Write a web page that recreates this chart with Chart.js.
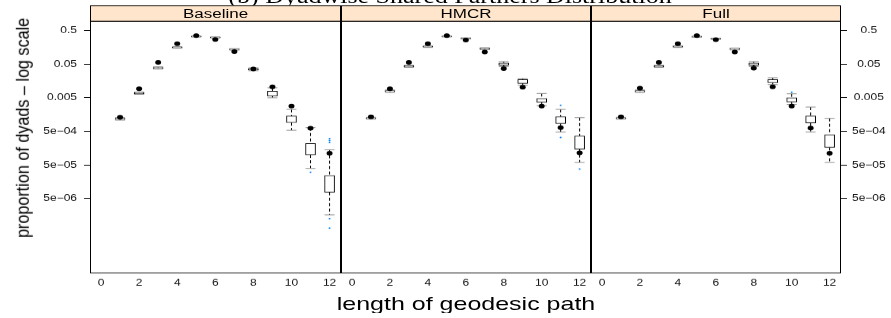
<!DOCTYPE html>
<html>
<head>
<meta charset="utf-8">
<script src="https://cdn.jsdelivr.net/npm/chart.js@4.4.0/dist/chart.umd.min.js"></script>
<style>
  html, body { margin: 0; padding: 0; background: #fff; overflow: hidden; }
  #page {
    position: absolute; left: 0; top: 0; width: 891px; height: 413px;
    transform: scaleY(0.77); transform-origin: 0 0;
    font-family: "Liberation Sans", Arial, sans-serif; color: #000;
  }
  #title {
    position: absolute; left: 0; width: 900px; top: -16.6px; text-align: center;
    font-family: "Liberation Serif", "Times New Roman", serif; font-size: 26px; line-height: 26px;
  }
  .strip {
    position: absolute; top: 6.5px; height: 21px; box-sizing: border-box;
    border: 1px solid #000; background: #ffe5cc; text-align: center;
    font-size: 17px; line-height: 21px; overflow: hidden;
  }
  canvas { position: absolute; top: 7px; }
  #xlab {
    position: absolute; left: 0; width: 932px; top: 381.4px; text-align: center;
    font-size: 25px; line-height: 25px;
  }
  #ylab {
    position: absolute; left: -176.6px; top: 154px; width: 400px; height: 24px;
    text-align: center; font-size: 21px; line-height: 24px; white-space: nowrap;
    transform: rotate(-90deg) scaleY(0.85);
  }
</style>
</head>
<body>
<div id="page">
  <div id="title">(b) Dyadwise Shared Partners Distribution</div>
  <div class="strip" style="left:90px; width:251px;">Baseline</div>
  <div class="strip" style="left:341px; width:250px;">HMCR</div>
  <div class="strip" style="left:591px; width:250px;">Full</div>
  <canvas id="c1" width="341" height="378" style="left:0px"></canvas>
  <canvas id="c2" width="250" height="378" style="left:341px"></canvas>
  <canvas id="c3" width="300" height="378" style="left:591px"></canvas>
  <div id="xlab">length of geodesic path</div>
  <div id="ylab">proportion of dyads – log scale</div>
</div>
<script>
const pathLengths = [1, 2, 3, 4, 5, 6, 7, 8, 9, 10, 11, 12]
const xTicks = [0, 2, 4, 6, 8, 10, 12]
const yTicks = [0.5, 0.05, 0.005, 5e-4, 5e-5, 5e-6]
const yTickLabels = ['0.5', '0.05', '0.005', '5e\u221204', '5e\u221205', '5e\u221206']

// Baseline
const baseLow  = [0.00108, 0.0063, 0.0355, 0.148, 0.318, 0.296, 0.130, 0.0318, 0.0050, 0.00054, 0.0000396, 0.00000165]
const baseQ1   = [0.00113, 0.0066, 0.0375, 0.153, 0.326, 0.304, 0.134, 0.0336, 0.00557, 0.00091, 0.000100, 0.0000077]
const baseQ3   = [0.00123, 0.0071, 0.0398, 0.161, 0.338, 0.316, 0.140, 0.0362, 0.00784, 0.00143, 0.000218, 0.0000243]
const baseHigh = [0.00128, 0.0074, 0.0415, 0.166, 0.345, 0.323, 0.144, 0.0388, 0.0099, 0.00225, 0.000647, 0.000141]
const baseObs  = [0.00132, 0.0092, 0.0565, 0.202, 0.349, 0.271, 0.117, 0.0360, 0.01057, 0.00282, 0.000618, 0.000112]
const baseOutX = [11, 12, 12, 12, 12, 12]
const baseOutY = [0.0000302, 0.000306, 0.000267, 0.000233, 0.00000126, 0.000000665]

// HMCR
const hmcrLow  = [0.00115, 0.0072, 0.0400, 0.156, 0.320, 0.278, 0.135, 0.0422, 0.0118, 0.0029, 0.00048, 0.0000597]
const hmcrQ1   = [0.00118, 0.0075, 0.0415, 0.160, 0.325, 0.283, 0.139, 0.0465, 0.01325, 0.00363, 0.00085, 0.000148]
const hmcrQ3   = [0.00127, 0.0082, 0.0447, 0.171, 0.339, 0.297, 0.149, 0.0540, 0.0174, 0.00476, 0.00137, 0.000366]
const hmcrHigh = [0.00131, 0.0085, 0.0462, 0.175, 0.344, 0.302, 0.153, 0.0593, 0.0186, 0.0067, 0.00225, 0.00128]
const hmcrObs  = [0.00135, 0.0092, 0.0565, 0.202, 0.349, 0.260, 0.115, 0.0368, 0.0103, 0.00282, 0.000647, 0.000115]
const hmcrOutX = [11, 11, 12]
const hmcrOutY = [0.00296, 0.000328, 0.0000378]

// Full
const fullLow  = [0.00115, 0.0072, 0.0400, 0.156, 0.314, 0.272, 0.132, 0.0422, 0.01236, 0.00317, 0.00048, 0.0000597]
const fullQ1   = [0.00118, 0.0075, 0.0415, 0.160, 0.319, 0.277, 0.136, 0.0465, 0.0139, 0.00376, 0.000887, 0.000166]
const fullQ3   = [0.00127, 0.0082, 0.0447, 0.171, 0.333, 0.291, 0.146, 0.0540, 0.0174, 0.0050, 0.00143, 0.000402]
const fullHigh = [0.00131, 0.0085, 0.0462, 0.175, 0.338, 0.296, 0.150, 0.0593, 0.0196, 0.00656, 0.00264, 0.00122]
const fullObs  = [0.00135, 0.0096, 0.0565, 0.202, 0.349, 0.265, 0.115, 0.0376, 0.01057, 0.00282, 0.000631, 0.000112]
const fullOutX = [10]
const fullOutY = [0.00733]

const tickFont = { family: 'Liberation Sans', size: 12 }

// black frame round each panel
const panelFrame = {
  id: 'panelFrame',
  afterDraw(chart) {
    const { ctx, chartArea: a } = chart
    ctx.save()
    ctx.strokeStyle = '#000'
    ctx.lineWidth = 1
    ctx.strokeRect(a.left + 0.5, a.top + 0.5, a.right - a.left - 1, a.bottom - a.top - 1)
    ctx.restore()
  }
}

const makePanel = (canvasId, side, low, q1, q3, high, obs, outX, outY) => {
  const whiskers = []
  pathLengths.forEach((x, i) => {
    whiskers.push({ x, y: high[i] }, { x, y: q3[i] }, { x, y: null })
    whiskers.push({ x, y: q1[i] }, { x, y: low[i] }, { x, y: null })
  })
  const caps = []
  pathLengths.forEach((x, i) => {
    caps.push({ x, y: low[i] }, { x, y: high[i] })
  })

  return new Chart(document.getElementById(canvasId), {
    type: 'bar',
    data: {
      datasets: [
        {
          type: 'line',
          label: 'observed',
          data: pathLengths.map((x, i) => ({ x, y: obs[i] })),
          showLine: false,
          pointStyle: 'circle',
          pointRadius: 3,
          pointBackgroundColor: '#000',
          pointBorderColor: '#000',
          pointBorderWidth: 0,
          order: 0
        },
        {
          type: 'line',
          label: 'outliers',
          data: outX.map((x, i) => ({ x, y: outY[i] })),
          showLine: false,
          pointRadius: 1,
          pointBackgroundColor: '#0080ff',
          pointBorderColor: '#0080ff',
          pointBorderWidth: 0,
          order: 1
        },
        {
          type: 'line',
          label: 'caps',
          data: caps,
          showLine: false,
          pointStyle: 'line',
          pointRadius: 5,
          pointBorderColor: '#8c8c8c',
          pointBorderWidth: 1,
          order: 2
        },
        {
          type: 'bar',
          label: 'box',
          data: pathLengths.map((x, i) => ({ x, y: [q1[i], q3[i]] })),
          backgroundColor: '#fff',
          borderColor: '#000',
          borderWidth: 1,
          borderSkipped: false,
          barThickness: 10,
          order: 3
        },
        {
          type: 'line',
          label: 'whiskers',
          data: whiskers,
          borderColor: '#000',
          borderWidth: 1,
          borderDash: [4, 3],
          pointRadius: 0,
          spanGaps: false,
          order: 4
        }
      ]
    },
    options: {
      responsive: false,
      animation: false,
      devicePixelRatio: 1,
      events: [],
      layout: { autoPadding: false, padding: { top: 20, left: 0, right: 0, bottom: 0 } },
      plugins: { legend: { display: false }, tooltip: { enabled: false } },
      scales: {
        x: {
          type: 'linear',
          min: -0.58,
          max: 12.6,
          offset: false,
          afterBuildTicks: s => { s.ticks = xTicks.map(v => ({ value: v })) },
          afterFit: s => {
            s.height = 30
            s.paddingLeft = 0
            s.paddingRight = 0
          },
          grid: { display: false, drawTicks: false },
          border: { display: false },
          ticks: { color: '#111', font: tickFont, padding: 5, maxRotation: 0, autoSkip: false }
        },
        y: {
          type: 'logarithmic',
          min: 3.4e-8,
          max: 0.968,
          display: side !== 'none',
          position: side === 'right' ? 'right' : 'left',
          afterBuildTicks: s => { s.ticks = yTicks.map(v => ({ value: v })) },
          afterFit: s => { s.width = side === 'right' ? 50 : side === 'left' ? 90 : 0 },
          grid: { drawOnChartArea: false, drawTicks: true, tickLength: 6, color: '#000' },
          border: { display: false },
          ticks: {
            color: '#111',
            font: tickFont,
            autoSkip: false,
            padding: side === 'right' ? 5 : 7,
            crossAlign: side === 'right' ? 'center' : 'near',
            callback: (v, i) => yTickLabels[i]
          }
        }
      }
    },
    plugins: [panelFrame]
  })
}

makePanel('c1', 'left', baseLow, baseQ1, baseQ3, baseHigh, baseObs, baseOutX, baseOutY)
makePanel('c2', 'none', hmcrLow, hmcrQ1, hmcrQ3, hmcrHigh, hmcrObs, hmcrOutX, hmcrOutY)
makePanel('c3', 'right', fullLow, fullQ1, fullQ3, fullHigh, fullObs, fullOutX, fullOutY)
</script>
</body>
</html>
